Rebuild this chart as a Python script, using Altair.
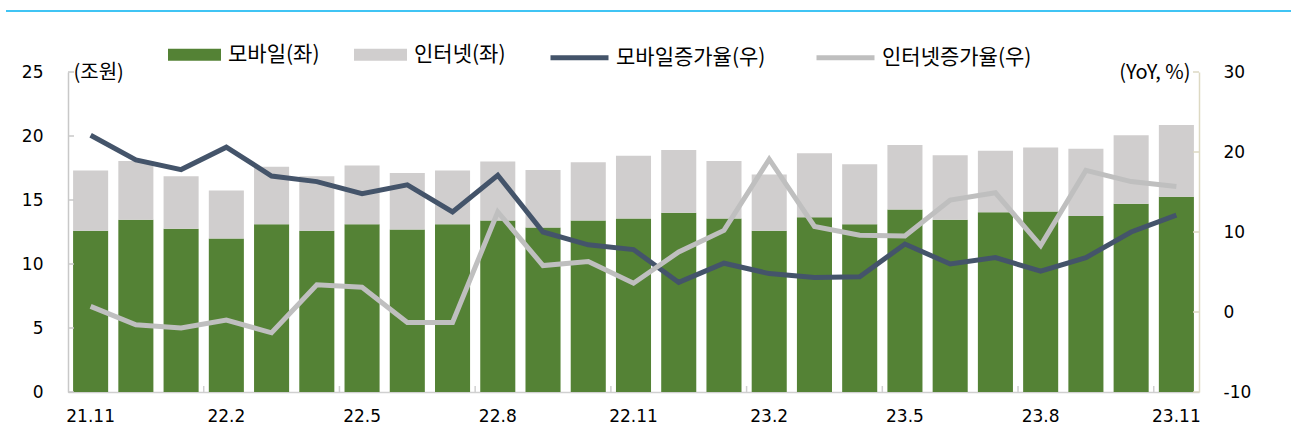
import altair as alt
import pandas as pd

months = ["21.11", "21.12", "22.1", "22.2", "22.3", "22.4", "22.5", "22.6", "22.7",
          "22.8", "22.9", "22.10", "22.11", "22.12", "23.1", "23.2", "23.3", "23.4",
          "23.5", "23.6", "23.7", "23.8", "23.9", "23.10", "23.11"]
mobile = [12.6, 13.45, 12.75, 12.0, 13.1, 12.6, 13.1, 12.7, 13.1, 13.4, 12.85, 13.4,
          13.55, 14.0, 13.55, 12.6, 13.65, 13.1, 14.25, 13.45, 14.05, 14.1, 13.75, 14.7, 15.25]
internet = [4.7, 4.6, 4.1, 3.75, 4.5, 4.25, 4.6, 4.4, 4.2, 4.6, 4.5, 4.55,
            4.9, 4.9, 4.5, 4.4, 5.0, 4.7, 5.05, 5.05, 4.8, 5.0, 5.25, 5.35, 5.6]
mobile_growth = [22.1, 19.0, 17.8, 20.6, 17.0, 16.3, 14.8, 15.9, 12.5, 17.1, 10.0, 8.4,
                 7.8, 3.7, 6.1, 4.8, 4.3, 4.4, 8.5, 6.0, 6.8, 5.1, 6.8, 10.0, 12.1]
internet_growth = [0.7, -1.6, -2.0, -1.0, -2.6, 3.4, 3.1, -1.3, -1.3, 12.5, 5.8, 6.3,
                   3.6, 7.5, 10.2, 19.1, 10.7, 9.6, 9.5, 14.0, 14.9, 8.3, 17.7, 16.3, 15.7]
label_months = ["21.11", "22.2", "22.5", "22.8", "22.11", "23.2", "23.5", "23.8", "23.11"]
left_ticks = [0, 5, 10, 15, 20, 25]
right_ticks = [-10, 0, 10, 20, 30]
bar_names = ["모바일(좌)", "인터넷(좌)"]
line_names = ["모바일증가율(우)", "인터넷증가율(우)"]
bar_colors = ["#548235", "#d0cece"]
line_colors = ["#44546a", "#bfbfbf"]

n = len(months)
bars_df = pd.DataFrame({
    "month": months * 2,
    "series": [bar_names[0]] * n + [bar_names[1]] * n,
    "value": mobile + internet,
    "order": [0] * n + [1] * n,
})
lines_df = pd.DataFrame({
    "month": months * 2,
    "series": [line_names[0]] * n + [line_names[1]] * n,
    "rate": mobile_growth + internet_growth,
    "idx": list(range(n)) * 2,
})

W, H = 1131, 320
NUM_FONT = "DejaVu Sans"
KR_FONT = "Noto Sans CJK KR"

xscale = alt.Scale(domain=months, paddingInner=0, paddingOuter=0)
xaxis = alt.Axis(values=label_months, ticks=False, labelFont=NUM_FONT, labelFontSize=17,
                 labelColor="#000000", labelPadding=16, labelAngle=0, domainColor="#d0d0d0",
                 domainWidth=1.5, grid=False, title=None)

yl_scale = alt.Scale(domain=[0, 25], nice=False)
yl_axis = alt.Axis(values=left_ticks, ticks=False, labelPadding=25, labelFont=NUM_FONT,
                   labelFontSize=17, labelColor="#000000", domainColor="#c8c8c8",
                   domainWidth=1.5, grid=False, title="(조원)", titleAngle=0, titleX=5,
                   titleY=0, titleAlign="left", titleBaseline="middle", titleFont=KR_FONT,
                   titleFontSize=20, titleFontWeight="normal", titleColor="#000000",
                   labelExpr="datum.value + ''")

yr_scale = alt.Scale(domain=[-10, 30], nice=False, zero=False)
yr_axis = alt.Axis(orient="right", values=right_ticks, ticks=False, labelPadding=24,
                   labelFont=NUM_FONT, labelFontSize=17, labelColor="#000000",
                   domainColor="#ddd9c3", domainWidth=1.5, grid=False, title="(YoY, %)",
                   titleAngle=0, titleX=-9, titleY=0, titleAlign="right",
                   titleBaseline="middle", titleFont=KR_FONT, titleFontSize=20,
                   titleFontWeight="normal", titleColor="#000000",
                   labelExpr="datum.value + ''")

top_rule = alt.Chart(pd.DataFrame({"a": [0]})).mark_rule(
    color="#00b0f0", strokeWidth=1.5
).encode(x=alt.value(-62), x2=alt.value(1223), y=alt.value(-61))

bars = alt.Chart(bars_df).mark_bar(width=alt.RelativeBandSize(0.775)).encode(
    x=alt.X("month:N", sort=months, scale=xscale, axis=xaxis),
    y=alt.Y("value:Q", stack="zero", scale=yl_scale, axis=yl_axis),
    fill=alt.Fill("series:N", scale=alt.Scale(domain=bar_names, range=bar_colors),
                  legend=alt.Legend(orient="none", legendX=100, legendY=-44,
                                    direction="horizontal", title=None,
                                    symbolType="M-1,-0.23H1V0.23H-1Z", symbolSize=2809,
                                    symbolStrokeWidth=0, symbolOpacity=1,
                                    labelFont=KR_FONT, labelFontSize=21,
                                    labelColor="#000000", labelOffset=7,
                                    columnPadding=34, padding=0, labelLimit=400)),
    order=alt.Order("order:Q"),
)

lticks = alt.Chart(pd.DataFrame({"v": left_ticks})).mark_rule(
    color="#c8c8c8", strokeWidth=1.5
).encode(y=alt.Y("v:Q", scale=yl_scale, axis=yl_axis), x=alt.value(0), x2=alt.value(6))

xticks = alt.Chart(pd.DataFrame({"month": label_months[1:]})).mark_rule(
    color="#d0d0d0", strokeWidth=1.5
).encode(x=alt.X("month:N", sort=months, scale=xscale, axis=xaxis, bandPosition=0),
         y=alt.value(H), y2=alt.value(H - 6))

lines = alt.Chart(lines_df).mark_line(strokeWidth=5).encode(
    x=alt.X("month:N", sort=months, scale=xscale, axis=xaxis),
    y=alt.Y("rate:Q", scale=yr_scale, axis=yr_axis),
    stroke=alt.Stroke("series:N", scale=alt.Scale(domain=line_names, range=line_colors),
                      legend=alt.Legend(orient="none", legendX=480, legendY=-46,
                                        direction="horizontal", title=None,
                                        symbolType="stroke", symbolSize=3364,
                                        symbolStrokeWidth=5, labelFont=KR_FONT,
                                        labelFontSize=21, labelColor="#000000",
                                        labelOffset=5, columnPadding=40, padding=0,
                                        labelLimit=400)),
    order=alt.Order("idx:Q"),
)

rticks = alt.Chart(pd.DataFrame({"v": right_ticks})).mark_rule(
    color="#ddd9c3", strokeWidth=1.5
).encode(y=alt.Y("v:Q", scale=yr_scale, axis=yr_axis), x=alt.value(W), x2=alt.value(W - 6))

left_group = alt.layer(top_rule, bars, lticks, xticks)
right_group = alt.layer(lines, rticks)

chart = alt.layer(left_group, right_group).resolve_scale(
    y="independent"
).properties(
    width=W, height=H,
    autosize=alt.AutoSizeParams(type="none"),
    padding={"left": 68, "top": 72, "right": 92, "bottom": 53},
    background="white",
).configure_view(stroke=None)

chart.save("out.html", embed_options={"renderer": "svg", "actions": False})
